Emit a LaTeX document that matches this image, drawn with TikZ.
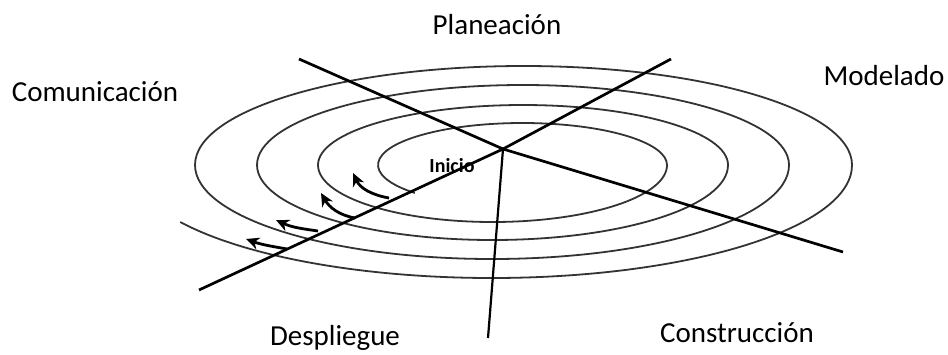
\documentclass[tikz,border=0pt]{standalone}
\usepackage{fontspec}
\setmainfont{Carlito}
\usetikzlibrary{arrows.meta}
\begin{document}
\begin{tikzpicture}[x=1pt,y=1pt,
  spoke/.style={line width=2.7pt,black},
  thinspoke/.style={line width=2.2pt,black},
  spiralline/.style={line width=1.8pt,black!80},
  turnarrow/.style={line width=2.8pt,-{Stealth[length=13pt,width=12pt,inset=4pt]}},
  phase/.style={anchor=base,inner sep=0pt,font=\fontsize{29}{34}\selectfont},
  startlabel/.style={inner sep=0pt,font=\fontsize{20}{24}\selectfont\bfseries}]
\useasboundingbox (0,0) rectangle (948,354);
% spiral
\draw[spiralline] (414.8,161)
  arc[start angle=221.8,end angle=0,x radius=144.5pt,y radius=42pt]
  arc[start angle=0,end angle=-180,x radius=174.5pt,y radius=57pt]
  arc[start angle=180,end angle=0,x radius=205pt,y radius=60pt]
  arc[start angle=0,end angle=-180,x radius=235.5pt,y radius=75pt]
  arc[start angle=180,end angle=0,x radius=266pt,y radius=80pt]
  arc[start angle=0,end angle=-180,x radius=297pt,y radius=94pt]
  arc[start angle=180,end angle=0,x radius=328.5pt,y radius=99pt]
  arc[start angle=0,end angle=-149.7,x radius=360.5pt,y radius=113pt];
% spokes
\coordinate (c) at (503,205);
\coordinate (nw) at (299,295);
\coordinate (ne) at (671,295);
\coordinate (se) at (843,102);
\coordinate (sw) at (199,64);
\coordinate (s) at (488,16);
\draw[spoke] (nw) -- (c) -- (se);
\draw[spoke] (sw) -- (c) -- (ne);
\draw[thinspoke] (c) -- (s);
% arrows
\coordinate (a1s) at (389,156); \coordinate (a1e) at (353,181);
\coordinate (a2s) at (355,136); \coordinate (a2e) at (321,161);
\coordinate (a3s) at (318,123); \coordinate (a3e) at (276,134);
\coordinate (a4s) at (287,105); \coordinate (a4e) at (246,115);
\draw[turnarrow] (a1s) to[out=170,in=-65] (a1e);
\draw[turnarrow] (a2s) to[out=170,in=-60] (a2e);
\draw[turnarrow] (a3s) to[out=172,in=-25] (a3e);
\draw[turnarrow] (a4s) to[out=170,in=-20] (a4e);
% labels
\node[phase] (plan) at (497,319) {Planeación};
\node[phase] (com) at (95,252) {Comunicación};
\node[phase] (mod) at (884,268) {Modelado};
\node[phase] (desp) at (335,9) {Despliegue};
\node[phase] (cons) at (737,12) {Construcción};
\node[startlabel] (ini) at (452,188) {Inicio};
\end{tikzpicture}
\end{document}
